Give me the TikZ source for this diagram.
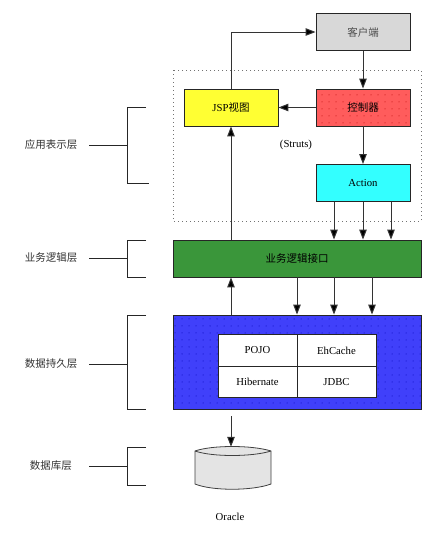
\documentclass[tikz,border=0pt]{standalone}
\usepackage{fontspec}
\setmainfont{Liberation Serif}
\newfontfamily\cjk{Noto Sans CJK SC}
\usepackage{tikz}
\usetikzlibrary{arrows.meta, calc, patterns.meta}

\definecolor{clientgray}{RGB}{216,216,216}
\definecolor{ctrlred}{RGB}{255,92,92}
\definecolor{actioncyan}{RGB}{51,255,255}
\definecolor{logicgreen}{RGB}{58,150,58}
\definecolor{persistblue}{RGB}{64,64,250}
\definecolor{viewyellow}{RGB}{255,255,51}
\definecolor{dbgray}{RGB}{228,228,228}

\begin{document}
\begin{tikzpicture}[x=1pt, y=-1pt,
    box node/.style={draw=black!85, line width=0.9pt, minimum width=94pt, minimum height=37pt, inner sep=0pt, font=\fontsize{10.7}{12}\selectfont},
    wide node/.style={box node, minimum width=248pt},
    cell node/.style={draw=black!85, line width=0.8pt, fill=white, minimum width=79pt, minimum height=31.5pt, inner sep=0pt, font=\fontsize{10.7}{12}\selectfont},
    layer node/.style={inner sep=0pt, text=black!80, font=\cjk\fontsize{10.5}{12}\selectfont},
    link/.style={draw=black!80, line width=1pt, -{Triangle[length=10pt, width=7.5pt, fill=black]}},
    brace/.style={draw=black!85, line width=0.8pt},
    dotted fill/.style={postaction={pattern={Dots[distance=7pt, radius=0.5pt]}, pattern color=#1}}]
    \useasboundingbox (0,0) rectangle (442,536);

    \draw[black!55, line width=0.9pt, dash pattern=on 1pt off 3pt] (173,70) rectangle (421,221);

    \node[box node, fill=clientgray, text=black!70] (client) at (363,32) {\cjk\fontsize{10.5}{12}\selectfont 客户端};
    \node[box node, fill=viewyellow] (view) at (231,107.5) {JSP\cjk\fontsize{10.5}{12}\selectfont 视图};
    \node[box node, fill=ctrlred, dotted fill=red!70!black] (ctrl) at (363,107.5) {\cjk\fontsize{10.5}{12}\selectfont 控制器};
    \node[box node, fill=actioncyan] (action) at (363,183) {Action};
    \node[inner sep=0pt, font=\fontsize{10.7}{12}\selectfont] (struts) at (296,145) {(Struts)};

    \node[wide node, fill=logicgreen] (logic) at (297,258.5) {\cjk\fontsize{10.5}{12}\selectfont 业务逻辑接口};
    \node[wide node, minimum height=94pt, fill=persistblue, dotted fill=blue!70!black] (persist) at (297,362) {};

    \node[cell node] (pojo) at (257.5,350.5) {POJO};
    \node[cell node] (ehcache) at (336.5,350.5) {EhCache};
    \node[cell node] (hibernate) at (257.5,382) {Hibernate};
    \node[cell node] (jdbc) at (336.5,382) {JDBC};

    \draw[black!75, line width=0.8pt, fill=dbgray] (195,451) .. controls (212,445) and (252,445) .. (271,451) -- (271,484) .. controls (252,491) and (212,491) .. (195,484) -- cycle;
    \draw[black!75, line width=0.8pt] (195,451) .. controls (212,457) and (252,457) .. (271,451);
    \node[minimum width=76pt, minimum height=42pt, inner sep=0pt] (db) at (233,468) {};
    \node[inner sep=0pt, font=\fontsize{10.7}{12}\selectfont] (oracle) at (230,517) {Oracle};

    \draw[link] (view.north) -- (view.north |- client.west) -- (client.west);
    \draw[link] (client.south) -- (ctrl.north);
    \draw[link] (ctrl.west) -- (view.east);
    \draw[link] (ctrl.south) -- (action.north);
    \draw[link] (action.south) -- (action.south |- logic.north);
    \draw[link] ([xshift=-29pt]action.south) -- ([xshift=-29pt]action.south |- logic.north);
    \draw[link] ([xshift=28pt]action.south) -- ([xshift=28pt]action.south |- logic.north);
    \draw[link] (view.south |- logic.north) -- (view.south);
    \draw[link] (view.south |- persist.north) -- (view.south |- logic.south);
    \draw[link] (logic.south) -- (persist.north);
    \draw[link] ([xshift=37pt]logic.south) -- ([xshift=37pt]persist.north);
    \draw[link] ([xshift=75pt]logic.south) -- ([xshift=75pt]persist.north);
    \draw[link] ([yshift=-7pt]persist.south -| view.south) -- (view.south |- db.north);

    \node[layer node] (present) at (51,145) {应用表示层};
    \node[layer node] (business) at (51,258) {业务逻辑层};
    \node[layer node] (persistence) at (51,364) {数据持久层};
    \node[layer node] (database) at (51,466) {数据库层};

    \draw[brace] (146,107) -- (127,107) -- (127,183) -- (149,183);
    \draw[brace] (146,240) -- (127,240) -- (127,277) -- (146,277);
    \draw[brace] (146,315) -- (127,315) -- (127,409) -- (146,409);
    \draw[brace] (146,447) -- (127,447) -- (127,485) -- (146,485);
    \draw[brace] (89,145) -- (127,145);
    \draw[brace] (89,258) -- (127,258);
    \draw[brace] (89,364) -- (127,364);
    \draw[brace] (89,466) -- (127,466);
\end{tikzpicture}
\end{document}
